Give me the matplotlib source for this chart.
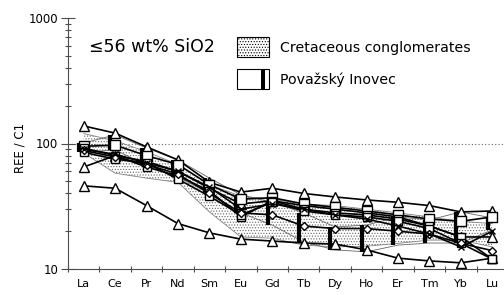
import numpy as np
import matplotlib.pyplot as plt
from matplotlib.patches import Rectangle

plt.rcParams['hatch.color'] = '0.4'
plt.rcParams['hatch.linewidth'] = 0.5

elements = ['La', 'Ce', 'Pr', 'Nd', 'Sm', 'Eu', 'Gd', 'Tb', 'Dy', 'Ho', 'Er', 'Tm', 'Yb', 'Lu']

# samples <= 56 wt% SiO2
tri_high = [138, 121, 94, 74, 49, 41, 44, 40, 37.5, 35.5, 34, 32, 28.5, 29]
tri_low = [46, 44, 32, 23, 19.4, 17.3, 16.7, 16.1, 15.8, 14.2, 12.2, 11.6, 11.2, 12.2]
tri_mid = [65, 80, 72, 60, 44, 33, 35, 32, 30, 28, 26, 22, 18, 18]
sq_open = [95, 97, 80, 68, 47, 36, 37, 33, 31, 29, 27, 25, 24, 26]
sq_eu = [92, 80, 65, 55, 42, 26, 35, 30, 28, 27, 25, 22, 18, 12]
sq_b = [85, 75, 70, 52, 38, 27, 34, 29, 27, 26, 24, 21, 16, 12]
diam = [88, 78, 68, 57, 40, 28, 27, 22, 21, 21, 20, 19, 16, 14]
cross = [90, 82, 70, 60, 45, 30, 33, 30, 27, 25, 22, 19, 15, 20]

# Cretaceous conglomerates field
cret_up = [120, 105, 86, 68, 47, 38, 36, 33, 32, 30, 28, 26, 24, 23]
cret_lo = [84, 58, 53, 49, 28.5, 18, 17.6, 15.5, 15, 15.2, 16, 17, 17, 15]

# Povazsky Inovec ranges
pi_top = [101, 117, 92, 74, 53, 39, 34, 28, 21.6, 22.4, 26, 24.6, 28.5, 25.5]
pi_bot = [85, 89, 67, 54, 40, 28, 22.4, 16.4, 14.2, 13.7, 15.5, 16.1, 16.1, 20.5]

fig = plt.figure(figsize=(5.04, 2.95), dpi=100)
ax = fig.add_axes([68/504, 26/295, 440/504, 251/295])
x = np.arange(len(elements))

ax.fill_between(x, cret_lo, cret_up, facecolor='white', hatch='......', edgecolor='0.4', lw=0, zorder=1)
ax.plot(x, cret_up, color='0.5', lw=0.6, zorder=2)
ax.plot(x, cret_lo, color='0.5', lw=0.6, zorder=2)

ax.axhline(100, color='0.4', lw=0.8, ls=(0, (1, 2)), zorder=1.5)

ax.vlines(x - 0.15, pi_bot, pi_top, color='black', lw=3, zorder=3)
ax.plot(x, pi_top, color='0.4', lw=0.6, zorder=2)
ax.plot(x, pi_bot, color='0.4', lw=0.6, zorder=2)

mk = dict(color='black', lw=1.2, mfc='white', mec='black', mew=1.0, zorder=4)
ax.plot(x, tri_high, marker='^', ms=7, **mk)
ax.plot(x, tri_low, marker='^', ms=7, **mk)
ax.plot(x, tri_mid, marker='^', ms=7, **mk)
ax.plot(x, sq_open, marker='s', ms=6.5, **mk)
ax.plot(x, sq_eu, marker='s', ms=6, **mk)
ax.plot(x, sq_b, marker='s', ms=5.5, **mk)
ax.plot(x, diam, marker='D', ms=4.5, **mk)
ax.plot(x, cross, marker='x', ms=5, **mk)

ax.set_yscale('log')
ax.set_ylim(10, 1000)
ax.set_xlim(-0.5, 13.5)
ax.set_yticks([10, 100, 1000])
ax.set_yticklabels(['10', '100', '1000'], fontsize=8.5)
ax.set_xticks(x)
ax.set_xticklabels(elements, fontsize=8)
ax.set_xticks(np.arange(-0.5, 14, 1), minor=True)
ax.tick_params(axis='x', which='major', length=0, pad=7)
ax.tick_params(axis='x', which='minor', direction='inout', length=5, width=0.8, color='0.3')
ax.tick_params(axis='y', which='major', direction='inout', length=10, width=0.8, color='0.3', pad=2)
ax.tick_params(axis='y', which='minor', direction='inout', length=4, width=0.8, color='0.3')
for s in ['top', 'right']:
    ax.spines[s].set_visible(False)
for s in ['left', 'bottom']:
    ax.spines[s].set_color('0.3')
    ax.spines[s].set_linewidth(0.8)

fig.text(20/504, 1 - 148/295, 'REE / C1', rotation=90, ha='center', va='center', fontsize=8.5)
fig.text(89/504, 1 - 47/295, '\u226456 wt% SiO2', ha='left', va='center', fontsize=12.5)

fig.patches.append(Rectangle((237/504, 1 - 57/295), 32/504, 20/295, transform=fig.transFigure,
                             facecolor='white', edgecolor='black', lw=0.8, hatch='......'))
fig.patches.append(Rectangle((237/504, 1 - 89/295), 32/504, 20/295, transform=fig.transFigure,
                             facecolor='white', edgecolor='black', lw=0.8))
fig.patches.append(Rectangle((261/504, 1 - 89/295), 4/504, 20/295, transform=fig.transFigure,
                             facecolor='black', edgecolor='black', lw=0))
fig.text(280/504, 1 - 48/295, 'Cretaceous conglomerates', ha='left', va='center', fontsize=10.2)
fig.text(280/504, 1 - 80/295, 'Považský Inovec', ha='left', va='center', fontsize=10.2)

fig.savefig('out.png', dpi=100)
